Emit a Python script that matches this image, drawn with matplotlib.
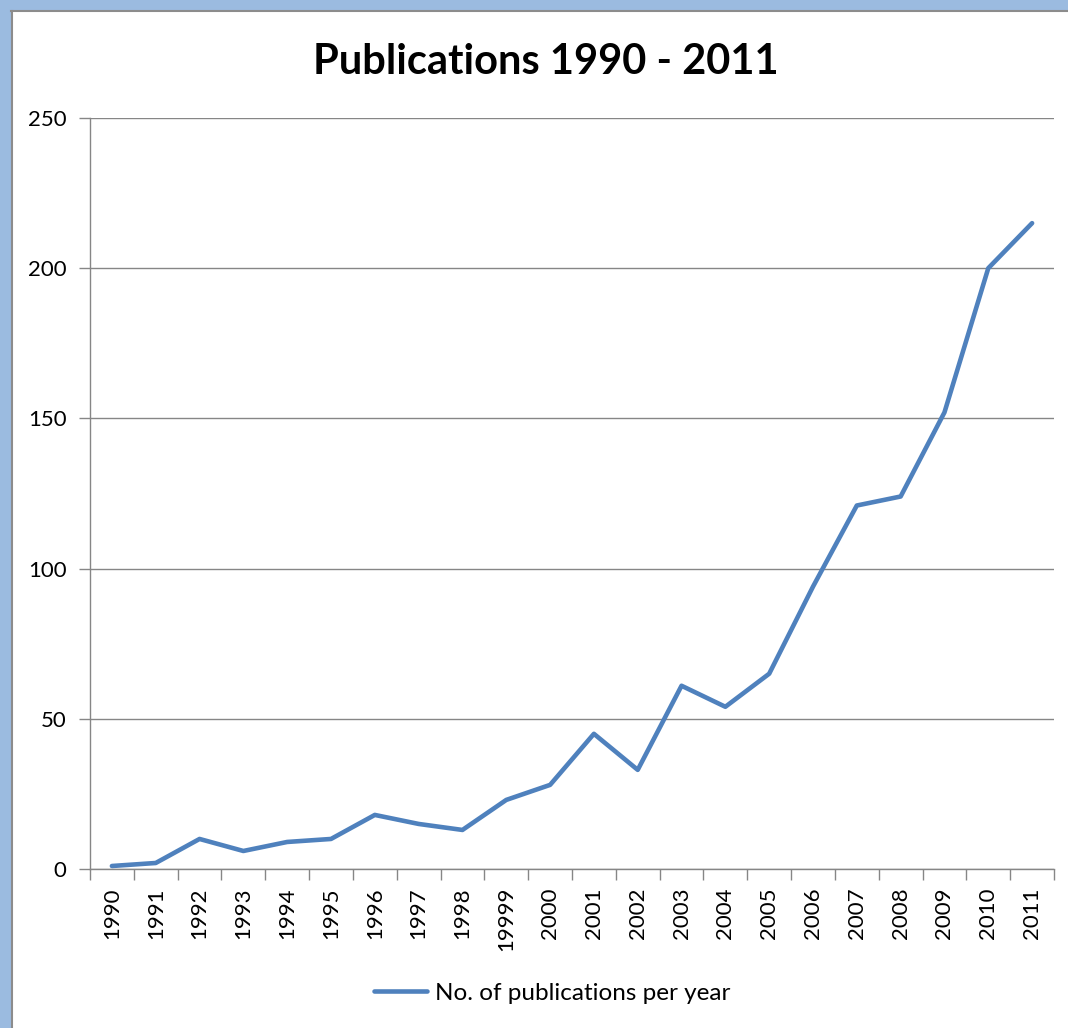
import numpy as np
import matplotlib.pyplot as plt
from matplotlib.patches import Rectangle
from matplotlib.lines import Line2D

plt.rcParams['font.family'] = ['Lato', 'DejaVu Sans']

years = ['1990', '1991', '1992', '1993', '1994', '1995', '1996', '1997', '1998', '19999',
         '2000', '2001', '2002', '2003', '2004', '2005', '2006', '2007', '2008', '2009',
         '2010', '2011']
publications = [1, 2, 10, 6, 9, 10, 18, 15, 13, 23, 28, 45, 33, 61, 54, 65, 94, 121, 124, 152,
                200, 215]

W, H = 1068, 1028
fig = plt.figure(figsize=(W / 100, H / 100), dpi=100)

# blue window frame at top and left
fig.patches.append(Rectangle((0, 1 - 10 / H), 1, 10 / H, transform=fig.transFigure,
                             color='#9bbbe0', zorder=0))
fig.patches.append(Rectangle((0, 0), 11 / W, 1, transform=fig.transFigure,
                             color='#9bbbe0', zorder=0))
fig.lines.append(Line2D([11 / W, 1], [1 - 11 / H, 1 - 11 / H], transform=fig.transFigure,
                        color='#8c8c8c', lw=1.5))
fig.lines.append(Line2D([11.5 / W, 11.5 / W], [0, 1 - 11 / H], transform=fig.transFigure,
                        color='#8c8c8c', lw=1.5))

ax = fig.add_axes([90 / W, 1 - 869 / H, (1054 - 90) / W, (869 - 118) / H])
x = np.arange(len(years))
ax.plot(x, publications, color='#4f81bd', lw=3.3, solid_capstyle='round',
        label='No. of publications per year')

ax.set_xlim(-0.5, len(years) - 0.5)
ax.set_ylim(0, 250)
ax.set_yticks([0, 50, 100, 150, 200, 250])
ax.yaxis.grid(True, color='#868686', lw=1)
ax.set_axisbelow(True)

ax.set_xticks(x)
ax.set_xticklabels(years, rotation=90, fontsize=16)
ax.set_xticks(np.arange(-0.5, len(years)), minor=True)
ax.tick_params(axis='x', which='major', length=0, pad=13)
ax.tick_params(axis='x', which='minor', length=8, color='#868686', width=1)
ax.tick_params(axis='y', length=8, color='#868686', width=1, labelsize=16, pad=9)

for s in ['top', 'right']:
    ax.spines[s].set_visible(False)
for s in ['left', 'bottom']:
    ax.spines[s].set_color('#868686')
    ax.spines[s].set_linewidth(1)

fig.text(546 / W, 1 - 62 / H, 'Publications 1990 - 2011', ha='center', va='center',
         fontsize=30, fontweight='bold')

fig.legend(loc='center', bbox_to_anchor=(552 / W, 1 - 993 / H), frameon=False,
           fontsize=17.5, handlelength=2.2, handletextpad=0.3)

fig.savefig('out.png', dpi=100, facecolor='white')
